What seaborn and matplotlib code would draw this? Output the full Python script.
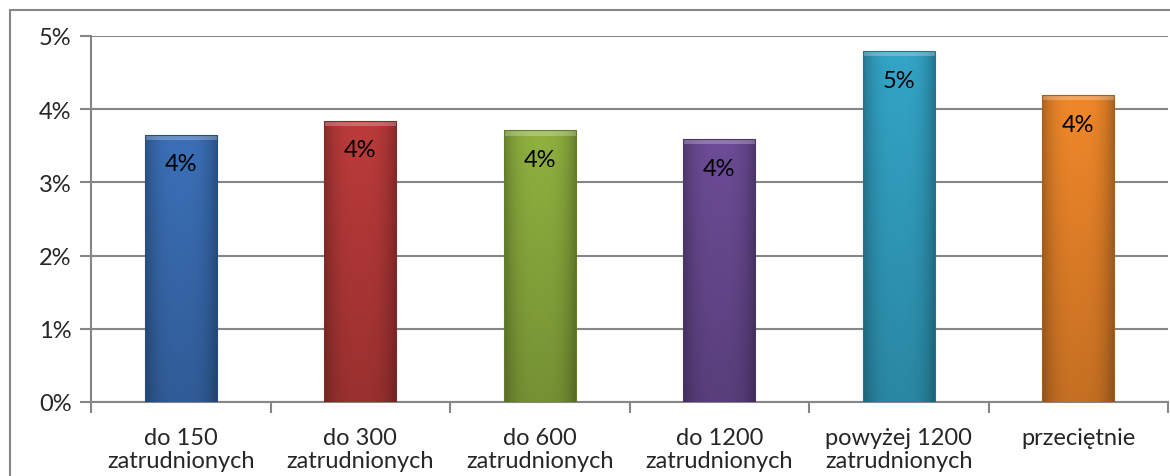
import numpy as np
import pandas as pd
import matplotlib
matplotlib.use("Agg")
import matplotlib.pyplot as plt
import matplotlib.colors as mcolors
from matplotlib.patches import Rectangle
import seaborn as sns

categories = ["do 150\nzatrudnionych", "do 300\nzatrudnionych", "do 600\nzatrudnionych",
              "do 1200\nzatrudnionych", "powyżej 1200\nzatrudnionych", "przeciętnie"]
values = [3.65, 3.84, 3.71, 3.59, 4.79, 4.19]
colors = ["#3b70b8", "#bb3b3a", "#8fb13f", "#6c4c96", "#33a5c7", "#f0882a"]
yticks = [0, 1, 2, 3, 4, 5]
ytick_labels = ["0%", "1%", "2%", "3%", "4%", "5%"]

sns.set_theme(style="white")
plt.rcParams["font.family"] = ["Lato", "DejaVu Sans"]

df = pd.DataFrame({"kat": categories, "val": values})

fig = plt.figure(figsize=(11.7, 4.77), dpi=100)
ax = fig.add_axes([91 / 1170, 1 - 403 / 477, 1077 / 1170, 366 / 477])

sns.barplot(data=df, x="kat", y="val", hue="kat", palette=colors, width=0.4,
            legend=False, ax=ax, saturation=1, zorder=3, edgecolor="none")

# gradient shading over each bar (darker edges, lighter centre)
for patch, c in zip(ax.patches, colors):
    x0, y0 = patch.get_x(), patch.get_y()
    w, h = patch.get_width(), patch.get_height()
    base = np.array(mcolors.to_rgb(c))
    t = np.linspace(-1, 1, 200)
    shade = 1 - 0.28 * np.abs(t) ** 3
    vert = np.linspace(0, 1, 100)
    img = np.ones((100, 200, 3)) * base
    img = img * shade[None, :, None]
    img = img * (0.82 + 0.18 * vert[:, None, None])
    img = np.clip(img, 0, 1)
    im = ax.imshow(img, extent=[x0, x0 + w, y0, y0 + h], origin="lower",
                   aspect="auto", zorder=4)
    im.set_clip_path(patch)
    # lighter bevel on top
    ax.add_patch(Rectangle((x0, y0 + h - 0.07), w, 0.07, facecolor="white", alpha=0.25,
                           edgecolor="none", zorder=5))
    ax.add_patch(Rectangle((x0, y0), w, h, fill=False,
                           edgecolor=base * 0.7, linewidth=0.8, zorder=6))
    ax.annotate(f"{round(y0 + h):.0f}%", (x0 + w / 2, y0 + h), xytext=(0, -29),
                textcoords="offset pixels",
                ha="center", va="center", fontsize=17, color="black", zorder=7)

ax.set_xlim(-0.5, 5.5)
ax.set_ylim(0, 5)
ax.set_yticks(yticks)
ax.set_yticklabels(ytick_labels)
ax.yaxis.grid(True, color="#868686", linewidth=1.5, zorder=0)
ax.set_axisbelow(True)

ax.set_xticks(range(6))
ax.set_xticklabels(categories, fontsize=17, linespacing=1.12, va="top")
ax.set_xticks(np.arange(-0.5, 6, 1), minor=True)
ax.tick_params(axis="x", which="minor", length=8, width=1.5, color="#868686", direction="out")
ax.tick_params(axis="y", length=8, width=1.5, color="#868686", direction="out",
               labelsize=17, pad=6)
ax.tick_params(bottom=True, left=True, which="both")
ax.tick_params(axis="x", which="major", bottom=False, pad=12)
ax.set_xlabel("")
ax.set_ylabel("")

for s in ["top", "right"]:
    ax.spines[s].set_visible(False)
for s in ["left", "bottom"]:
    ax.spines[s].set_color("#868686")
    ax.spines[s].set_linewidth(1.5)

# outer chart border (only left and top edges visible in frame)
fig.add_artist(Rectangle((10 / 1170, -0.1), 1.2, 1 - 11 / 477 + 0.1,
                         transform=fig.transFigure, fill=False,
                         edgecolor="#868686", linewidth=1.5))

fig.savefig("out.png", dpi=100)
